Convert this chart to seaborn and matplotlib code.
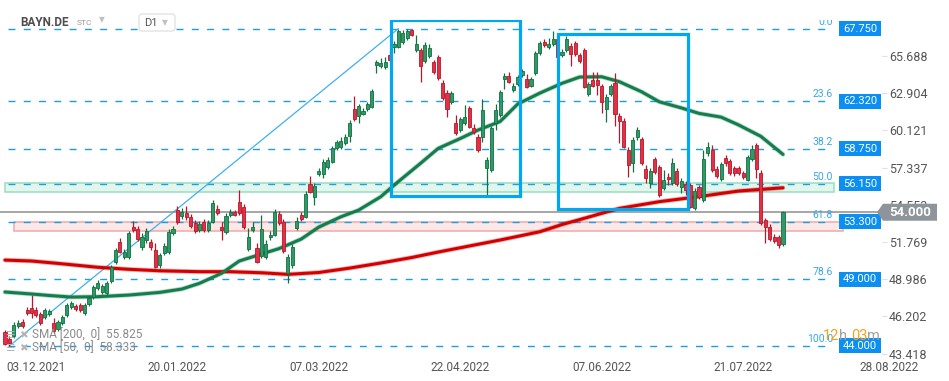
import numpy as np
import pandas as pd
import matplotlib
matplotlib.use("Agg")
import matplotlib.pyplot as plt
import seaborn as sns
from matplotlib.patches import Rectangle, Polygon, FancyBboxPatch
from matplotlib.transforms import blended_transform_factory, IdentityTransform

# daily candles (first bar = late Nov 2021)
opens = [45.05, 44.50, 44.73, 45.48, 45.78, 46.68, 46.83, 46.68, 46.38, 46.16,
         46.38, 45.71, 45.26, 45.71, 46.31, 46.90, 46.98, 47.05, 46.46, 47.13,
         47.65, 48.33, 48.03, 47.95, 48.85, 50.27, 51.77, 50.65, 50.65, 52.89,
         52.74, 51.39, 51.92, 51.77, 51.17, 50.05, 50.98, 51.02, 52.44, 54.16,
         53.71, 53.94, 53.68, 53.19, 52.67, 53.27, 52.67, 53.27, 54.24, 52.89,
         52.52, 53.79, 54.01, 54.76, 54.39, 51.25, 52.70, 51.32, 50.72, 50.65,
         52.11, 52.33, 53.87, 53.27, 49.45, 50.05, 52.82, 53.79, 53.68, 56.11,
         55.14, 56.86, 56.86, 57.38, 57.76, 58.81, 58.88, 59.18, 59.70, 61.72,
         61.20, 61.39, 61.72, 61.87, 65.02, 64.94, 64.87, 65.77, 66.37, 66.40,
         66.76, 67.08, 67.64, 66.14, 66.14, 65.32, 65.71, 65.22, 65.64, 63.65,
         62.90, 62.27, 60.65, 60.15, 60.65, 61.82, 60.33, 59.65, 59.65, 57.29,
         57.16, 60.68, 61.28, 64.01, 64.19, 63.15, 63.60, 64.27, 63.97, 63.47,
         64.40, 65.89, 66.76, 66.34, 66.59, 66.96, 65.77, 66.14, 66.46, 66.64,
         65.77, 66.14, 62.85, 63.90, 63.90, 63.45, 61.70, 62.85, 63.69, 61.20,
         60.85, 58.66, 57.68, 59.61, 59.46, 57.21, 56.21, 57.96, 57.36, 55.81,
         56.66, 56.16, 57.11, 55.86, 56.11, 56.03, 54.29, 55.86, 54.91, 58.41,
         58.66, 57.21, 56.46, 58.03, 57.83, 57.29, 57.29, 56.91, 56.41, 57.96,
         59.03, 56.91, 53.42, 52.91, 52.12, 52.12, 51.62]
highs = [45.20, 44.75, 45.78, 45.93, 46.01, 46.90, 47.80, 46.90, 46.53, 46.83,
         46.75, 46.08, 45.93, 46.31, 47.20, 47.35, 47.12, 47.20, 47.20, 47.73,
         48.55, 48.92, 48.63, 48.85, 50.05, 51.32, 52.07, 51.25, 52.59, 53.34,
         52.97, 52.44, 52.82, 51.99, 51.69, 50.95, 51.69, 52.74, 52.97, 54.46,
         54.31, 54.46, 53.87, 53.42, 53.34, 53.49, 53.42, 54.91, 54.54, 53.27,
         53.94, 54.24, 54.16, 55.66, 54.61, 52.82, 53.27, 51.69, 53.79, 51.92,
         52.59, 54.24, 54.09, 53.49, 50.87, 51.62, 53.64, 54.01, 55.59, 56.71,
         56.19, 57.31, 57.98, 58.13, 58.96, 59.40, 59.63, 59.85, 60.90, 62.70,
         62.10, 61.80, 62.25, 63.22, 65.39, 65.54, 65.62, 66.14, 66.81, 67.75,
         67.64, 67.70, 67.68, 67.30, 66.29, 66.74, 66.59, 65.39, 65.77, 63.90,
         63.15, 63.07, 61.28, 61.13, 62.02, 61.95, 60.60, 59.85, 62.47, 58.13,
         60.45, 62.10, 63.15, 64.42, 64.49, 63.67, 64.27, 64.72, 64.34, 64.12,
         66.07, 66.81, 66.96, 67.06, 67.53, 67.19, 66.22, 67.19, 66.66, 66.81,
         65.92, 66.29, 63.75, 64.52, 64.52, 63.60, 62.85, 63.60, 64.40, 61.42,
         61.05, 58.88, 59.63, 60.40, 59.63, 57.53, 57.31, 58.15, 57.53, 57.16,
         56.96, 58.08, 57.31, 56.56, 56.33, 56.18, 55.81, 56.03, 58.66, 59.28,
         59.03, 57.46, 57.76, 58.28, 57.98, 57.46, 57.46, 57.08, 58.28, 59.03,
         59.18, 57.16, 53.57, 53.12, 52.37, 52.29, 54.09]
lows = [44.10, 44.00, 44.58, 45.33, 45.33, 46.31, 46.08, 46.16, 45.56, 46.01,
        46.23, 44.96, 45.11, 45.56, 46.16, 46.75, 46.60, 46.53, 46.31, 46.98,
        47.50, 48.17, 47.88, 47.73, 48.70, 50.12, 50.95, 50.50, 50.50, 52.52,
        51.84, 51.17, 51.69, 51.17, 49.82, 49.82, 50.80, 50.87, 52.29, 53.12,
        53.49, 53.42, 52.82, 52.44, 52.52, 52.52, 52.52, 53.19, 53.79, 51.92,
        52.37, 53.64, 53.71, 53.79, 52.74, 51.10, 52.52, 50.20, 50.57, 50.50,
        51.92, 52.22, 53.04, 50.95, 48.70, 49.82, 52.67, 53.34, 53.57, 55.44,
        54.54, 56.71, 56.56, 57.23, 57.68, 58.66, 58.73, 59.03, 59.25, 60.83,
        60.68, 61.28, 61.57, 61.80, 64.42, 64.79, 64.72, 65.24, 65.92, 66.29,
        66.59, 66.89, 67.19, 65.99, 63.77, 65.17, 65.54, 64.34, 63.90, 62.40,
        61.15, 62.10, 59.78, 60.00, 60.53, 60.30, 59.85, 58.51, 59.28, 55.29,
        57.01, 60.15, 61.13, 63.22, 63.67, 62.99, 63.45, 64.12, 63.30, 63.37,
        64.27, 65.77, 66.37, 66.22, 66.44, 65.39, 65.62, 65.99, 64.96, 65.69,
        65.17, 63.30, 62.70, 63.37, 62.77, 61.42, 60.77, 62.70, 60.45, 59.16,
        58.81, 56.66, 57.01, 59.40, 57.53, 56.16, 55.79, 56.86, 55.14, 55.66,
        56.03, 56.03, 55.96, 55.41, 55.29, 54.31, 54.16, 54.99, 54.76, 58.21,
        57.01, 56.56, 56.33, 57.46, 56.78, 56.71, 56.78, 56.48, 56.33, 57.83,
        56.54, 53.04, 51.69, 51.84, 51.69, 51.32, 51.47]
closes = [44.15, 44.20, 45.56, 45.71, 45.48, 46.46, 46.46, 46.31, 45.71, 46.68,
          46.60, 45.11, 45.78, 46.16, 47.05, 47.20, 46.75, 46.68, 47.05, 47.58,
          48.40, 48.70, 48.48, 48.70, 49.90, 51.21, 51.02, 51.02, 52.44, 52.67,
          51.99, 52.14, 52.59, 51.39, 49.90, 50.80, 51.47, 52.55, 52.74, 53.27,
          54.01, 53.64, 52.97, 52.59, 53.12, 52.67, 53.19, 54.69, 53.94, 52.70,
          53.71, 54.01, 53.83, 53.94, 52.89, 52.14, 52.89, 50.27, 52.78, 51.62,
          52.29, 54.01, 53.19, 51.10, 50.65, 51.39, 53.34, 53.53, 55.36, 55.55,
          55.96, 57.08, 57.76, 57.91, 58.81, 59.25, 59.33, 59.63, 60.68, 60.98,
          61.95, 61.57, 62.10, 63.07, 65.24, 65.20, 65.24, 65.39, 66.63, 67.56,
          67.45, 67.53, 67.30, 66.63, 64.96, 66.52, 66.27, 64.47, 64.02, 62.53,
          61.72, 62.90, 59.91, 60.98, 61.15, 60.40, 60.03, 58.66, 61.65, 57.91,
          60.29, 61.65, 62.99, 64.19, 63.77, 63.45, 64.12, 64.57, 63.41, 63.97,
          65.92, 66.64, 66.52, 66.57, 66.96, 65.62, 66.01, 66.94, 65.82, 65.82,
          65.32, 63.39, 63.60, 63.47, 63.52, 62.27, 62.64, 63.45, 61.35, 60.85,
          58.90, 57.53, 59.40, 60.15, 57.66, 56.54, 57.11, 57.03, 55.29, 56.41,
          56.46, 57.70, 56.11, 56.36, 55.66, 54.41, 55.61, 55.16, 57.96, 58.90,
          57.16, 56.71, 57.61, 57.66, 56.91, 56.96, 56.96, 56.61, 58.11, 58.71,
          57.21, 53.17, 52.91, 51.97, 51.87, 51.54, 54.00]

# moving averages, read at a few bars along each line
sma50_bar = [0, 6, 10, 15, 21, 28, 35, 40, 44, 49, 53, 58, 62, 67, 71, 76, 80,
             85, 89, 94, 98, 103, 107, 112, 116, 121, 126, 130, 135, 139, 144,
             148, 153, 157, 162, 166, 171, 176]
sma50_val = [48.03, 47.88, 47.77, 47.65, 47.68, 47.80, 48.00, 48.25, 48.68,
             49.43, 50.35, 50.87, 51.28, 51.99, 52.89, 53.66, 54.16, 55.16,
             56.30, 57.66, 58.78, 59.52, 60.15, 60.79, 62.10, 62.92, 63.65,
             64.12, 64.14, 63.77, 63.02, 62.27, 61.81, 61.40, 61.12, 60.53,
             59.68, 58.33]
sma200_bar = [0, 6, 12, 21, 28, 35, 44, 51, 58, 64, 71, 78, 85, 92, 98, 105,
              112, 121, 126, 130, 139, 148, 157, 166, 176]
sma200_val = [50.42, 50.35, 50.17, 49.88, 49.73, 49.62, 49.55, 49.55, 49.47,
              49.35, 49.49, 49.82, 50.20, 50.61, 51.02, 51.47, 51.92, 52.54,
              53.08, 53.45, 54.29, 54.79, 55.17, 55.59, 55.83]
sma200_last = 55.825
sma50_last = 58.333

# fibonacci retracement
fib_pct = ["0.0", "23.6", "38.2", "50.0", "61.8", "78.6", "100.0"]
fib_price = [67.75, 62.32, 58.75, 56.15, 53.30, 49.00, 44.00]
fib_low_bar = 1
fib_high_bar = 89

last_price = 54.00
right_ticks = [43.418, 46.202, 48.986, 51.769, 54.553, 57.337, 60.121, 62.904, 65.688]
date_labels = ["03.12.2021", "20.01.2022", "07.03.2022", "22.04.2022",
               "07.06.2022", "21.07.2022", "28.08.2022"]
date_bars = [7, 39, 71, 103, 135, 167, 200]

# zones and highlighted windows
green_zone = (55.50, 56.20)
red_zone = (52.62, 53.29)
box1 = (87.3, 116.5, 55.21, 68.39)
box2 = (125.1, 154.5, 54.24, 67.34)

# ---------------------------------------------------------------
sns.set_theme(style="white")
plt.rcParams["font.family"] = ["Roboto", "DejaVu Sans"]

W, H = 949, 381
fig = plt.figure(figsize=(W / 100, H / 100), dpi=100)
fig.patch.set_facecolor("white")
ax = fig.add_axes([0, (H - 358) / H, 882 / W, (358 - 20) / H])
ax.set_facecolor("white")

o = np.array(opens); h = np.array(highs); l = np.array(lows); c = np.array(closes)
x = np.arange(len(c))
up = c >= o
g_fill, g_edge = "#2f9a69", "#11703f"
r_fill, r_edge = "#e03246", "#bb1528"

# zones
ax.add_patch(Rectangle((0, green_zone[0]), 187.6, green_zone[1] - green_zone[0],
                       fc="#e3f6ee", ec="#9fe0c5", lw=1.2, zorder=1))
ax.add_patch(Rectangle((2, red_zone[0]), 187.6, red_zone[1] - red_zone[0],
                       fc="#fde8e8", ec="#f4aeae", lw=1.2, zorder=1))

# fib lines + labels
fib_end = 187.3
ax.hlines(fib_price, fib_low_bar - 0.3, fib_end, colors="#1a9ee6",
          linestyles=(0, (5, 6)), lw=1.0, zorder=1.6)
for t, p in zip(fib_pct, fib_price):
    ax.annotate(t, (fib_end, p), xytext=(0, 1.2), textcoords="offset points",
                ha="right", va="bottom", fontsize=7.5, color="#3aa6e6",
                clip_on=True, zorder=6)
ax.plot([fib_low_bar, fib_high_bar], [fib_price[-1], fib_price[0]],
        color="#3db0f0", lw=0.9, zorder=1.7)

# current price line
ax.axhline(last_price, color="#8e8e8e", lw=1.1, zorder=2.2)

# moving averages
df200 = pd.DataFrame({"bar": sma200_bar, "val": sma200_val})
df50 = pd.DataFrame({"bar": sma50_bar, "val": sma50_val})
for df, col in [(df200, "#d40000"), (df50, "#137d4c")]:
    sns.lineplot(data=df, x="bar", y="val", ax=ax, color=col, lw=3.4,
                 alpha=0.3, zorder=2.4)
    sns.lineplot(data=df, x="bar", y="val", ax=ax, color=col, lw=2.2, zorder=2.5)

# candles
ax.vlines(x, l, h, colors=np.where(up, g_edge, r_edge), lw=0.9, zorder=3)
ax.bar(x, np.maximum(np.abs(c - o), 0.05), bottom=np.minimum(o, c), width=0.7,
       color=np.where(up, g_fill, r_fill), edgecolor=np.where(up, g_edge, r_edge),
       linewidth=0.6, zorder=4)

# highlighted windows
for b0, b1, lo, hi in (box1, box2):
    ax.add_patch(Rectangle((b0, lo), b1 - b0, hi - lo, fill=False,
                           ec="#00a8f0", lw=2.3, zorder=5))

ax.set_xlim(-1.13, 198.4)
ax.set_ylim(43.09, 68.39)
ax.set_xlabel("")
ax.set_ylabel("")
for s in ax.spines.values():
    s.set_visible(False)

# right price axis
ax.yaxis.tick_right()
ax.set_yticks(right_ticks)
ax.set_yticklabels([f"{v:.3f}" for v in right_ticks])
ax.tick_params(axis="y", length=3.6, width=0.8, color="#e0e0e0", pad=1.5,
               labelsize=9, labelcolor="#555555")
ax.set_xticks([])
for lab, b in zip(date_labels, date_bars):
    ax.annotate(lab, xy=(b, 0), xycoords=("data", "axes fraction"),
                xytext=(0, -2.5), textcoords="offset points", ha="center",
                va="top", fontsize=8.5, color="#555555", annotation_clip=False)

# blue value boxes for fib levels
tr = blended_transform_factory(ax.transAxes, ax.transData)
for p in fib_price:
    ax.add_patch(Rectangle((839 / 882, p - 0.56), 42 / 882, 1.12, transform=tr,
                           fc="#0b8ff2", ec="none", zorder=7, clip_on=False))
    ax.text(860 / 882, p, f"{p:.3f}", transform=tr, ha="center", va="center",
            fontsize=8, color="white", zorder=8, clip_on=False)

# gray marker with the last price
ypix = ax.transData.transform((0, last_price))[1]
fig.add_artist(Polygon([(877, ypix), (883, ypix + 8.5), (937, ypix + 8.5),
                        (937, ypix - 8.5), (883, ypix - 8.5)], closed=True,
                       transform=IdentityTransform(), fc="#8d949a", ec="none",
                       zorder=10))
fig.text(910 / W, ypix / H, f"{last_price:.3f}", ha="center", va="center",
         fontsize=9.5, color="white", fontweight="bold", zorder=11)

# countdown, pieces placed one after the other
renderer = fig.canvas.get_renderer()
yc = 1 - 336 / H
xpos = 823
for piece, col in [("12", "#f7a21b"), ("h ", "#a0a0a0"), ("03", "#f7a21b"), ("m", "#a0a0a0")]:
    t = fig.text(xpos / W, yc, piece, color=col, fontsize=10.5, va="center", zorder=12)
    xpos = t.get_window_extent(renderer=renderer).x1

# header
fig.text(20 / W, 1 - 22 / H, "BAYN.DE", fontsize=8.5, fontweight="bold",
         color="#4d4d4d", va="center")
fig.text(77 / W, 1 - 23 / H, "STC", fontsize=6, color="#9a9a9a", va="center")
fig.text(99 / W, 1 - 20 / H, "▼", fontsize=5.5, color="#c0c0c0", va="center")
fig.add_artist(FancyBboxPatch((139, H - 31), 36, 17,
                              boxstyle="round,pad=0,rounding_size=3",
                              transform=IdentityTransform(), fc="white",
                              ec="#dcdcdc", lw=0.8, zorder=9))
fig.text(144 / W, 1 - 23 / H, "D1", fontsize=8, color="#555555", va="center",
         zorder=10)
fig.text(162 / W, 1 - 23 / H, "▼", fontsize=5.5, color="#c0c0c0", va="center",
         zorder=10)

# legend of the moving averages
for txt, yy in [(f"SMA [200,  0]  {sma200_last:.3f}", 335),
                (f"SMA [50,  0]  {sma50_last:.3f}", 348)]:
    fig.text(5 / W, 1 - yy / H, "☰", fontsize=7.5, color="#b5b5b5", va="center",
             family="DejaVu Sans", zorder=10)
    fig.text(19 / W, 1 - yy / H, "✖", fontsize=7.5, color="#b5b5b5", va="center",
             family="DejaVu Sans", zorder=10)
    fig.text(32 / W, 1 - yy / H, txt, fontsize=8.5, color="#8a8a8a", va="center",
             zorder=10)

fig.savefig("out.png", dpi=100)
